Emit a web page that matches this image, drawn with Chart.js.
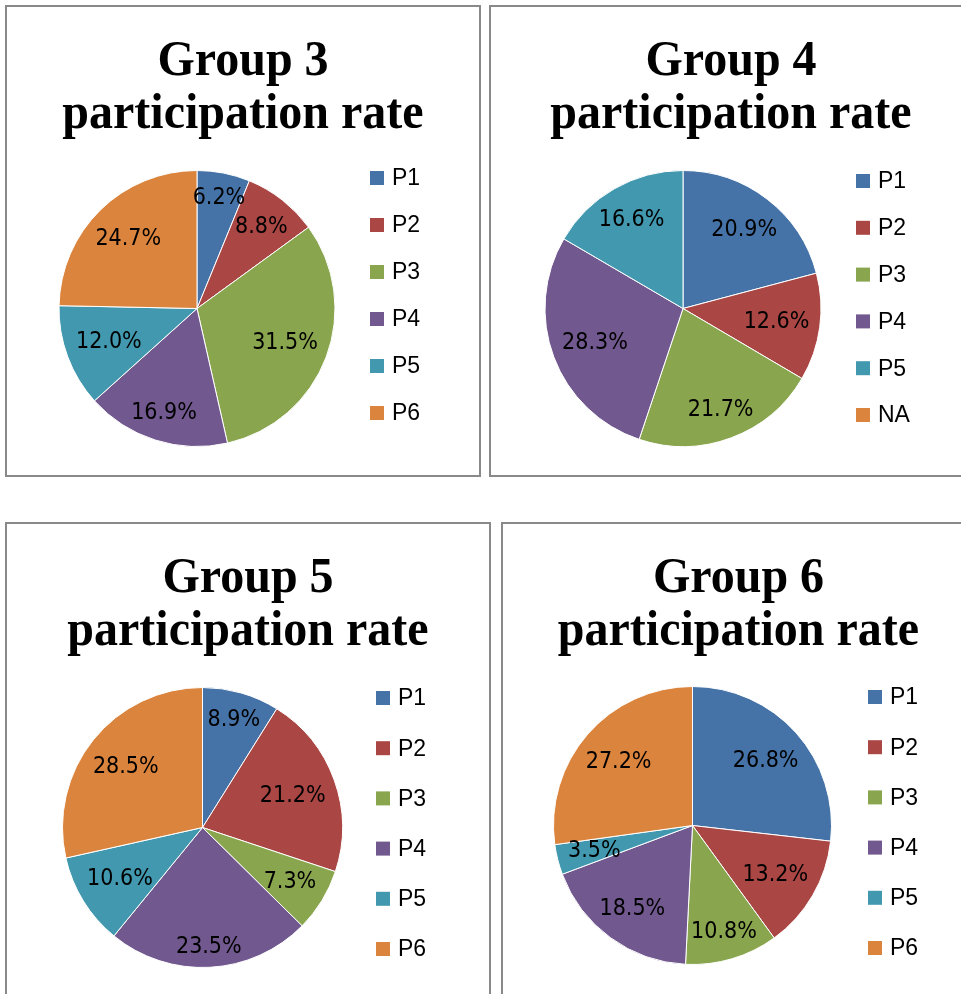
<!DOCTYPE html>
<html>
<head>
<meta charset="utf-8">
<script src="https://cdn.jsdelivr.net/npm/chart.js@4/dist/chart.umd.min.js"></script>
<style>
    html, body { margin: 0; padding: 0; background: #fff; overflow: hidden; }
    body { width: 961px; height: 994px; position: relative; }
    .panel { position: absolute; border: 2px solid #898989; box-sizing: border-box; background: #fff; }
    .panel canvas { display: block; }
</style>
</head>
<body>
<div class="panel" id="panel-3"><canvas id="chart-3"></canvas></div>
<div class="panel" id="panel-4"><canvas id="chart-4"></canvas></div>
<div class="panel" id="panel-5"><canvas id="chart-5"></canvas></div>
<div class="panel" id="panel-6"><canvas id="chart-6"></canvas></div>
<script>
// Categories
const partLabels = ['P1', 'P2', 'P3', 'P4', 'P5', 'P6'];
const partLabelsNA = ['P1', 'P2', 'P3', 'P4', 'P5', 'NA'];

// Participation shares (%)
const group3Values = [6.2, 8.8, 31.5, 16.9, 12.0, 24.7];
const group4Values = [20.9, 12.6, 21.7, 28.3, 16.6, 0];
const group5Values = [8.9, 21.2, 7.3, 23.5, 10.6, 28.5];
const group6Values = [26.8, 13.2, 10.8, 18.5, 3.5, 27.2];

// Titles
const group3Title = ['Group 3', 'participation rate'];
const group4Title = ['Group 4', 'participation rate'];
const group5Title = ['Group 5', 'participation rate'];
const group6Title = ['Group 6', 'participation rate'];

// Office-style series colours
const sliceColors = ['#4572A7', '#AA4643', '#89A54E', '#71588F', '#4198AF', '#DB843D'];

const panels = [
    { id: 3, title: group3Title, labels: partLabels, values: group3Values,
      box: { left: 5, top: 5, width: 476, height: 472 },
      pad: { left: 51, right: 143, top: 163, bottom: 28 },
      legend: { gap: 34, firstY: 171, step: 47 } },
    { id: 4, title: group4Title, labels: partLabelsNA, values: group4Values,
      box: { left: 489, top: 5, width: 484, height: 472 },
      pad: { left: 53, right: 149, top: 163, bottom: 28 },
      legend: { gap: 34, firstY: 174, step: 46.8 } },
    { id: 5, title: group5Title, labels: partLabels, values: group5Values,
      box: { left: 5, top: 522, width: 486, height: 480 },
      pad: { left: 55, right: 146, top: 163, bottom: 32 },
      legend: { gap: 33, firstY: 174, step: 50.2 } },
    { id: 6, title: group6Title, labels: partLabels, values: group6Values,
      box: { left: 501, top: 522, width: 475, height: 480 },
      pad: { left: 50, right: 142, top: 161, bottom: 34 },
      legend: { gap: 36, firstY: 173, step: 50.2 } }
];

// draws text squeezed horizontally around (x, y)
function drawSqueezed(ctx, text, x, y, sx) {
    ctx.save();
    ctx.translate(x, y);
    ctx.scale(sx, 1);
    ctx.fillText(text, 0, 0);
    ctx.restore();
}

// Title, slice percentages and legend, laid out like the spreadsheet chart
const panelText = {
    id: 'panelText',
    afterDraw(chart, args, opts) {
        const ctx = chart.ctx;
        const meta = chart.getDatasetMeta(0);
        const values = chart.data.datasets[0].data;
        const colors = chart.data.datasets[0].backgroundColor;

        // title
        ctx.save();
        ctx.fillStyle = '#000';
        ctx.textAlign = 'center';
        ctx.textBaseline = 'alphabetic';
        ctx.font = opts.titleFont;
        opts.title.forEach((line, i) => {
            drawSqueezed(ctx, line, chart.width / 2, opts.titleY[i], opts.titleSqueeze);
        });
        ctx.restore();

        // slice labels
        ctx.save();
        ctx.fillStyle = '#000';
        ctx.textAlign = 'center';
        ctx.textBaseline = 'middle';
        ctx.font = opts.labelFont;
        meta.data.forEach((arc, i) => {
            if (!values[i]) return;
            const text = values[i].toFixed(1) + '%';
            const w = ctx.measureText(text).width * opts.labelSqueeze;
            const h = opts.labelHeight;
            const mid = (arc.startAngle + arc.endAngle) / 2;
            const ux = Math.cos(mid), uy = Math.sin(mid);
            const d = opts.labelReach * arc.outerRadius - (Math.abs(ux) * w / 2 + Math.abs(uy) * h / 2);
            drawSqueezed(ctx, text, arc.x + ux * d, arc.y + uy * d + 1, opts.labelSqueeze);
        });
        ctx.restore();

        // legend
        const lg = opts.legend;
        const boxX = chart.chartArea.right + lg.gap;
        ctx.save();
        ctx.font = opts.legendFont;
        ctx.textAlign = 'left';
        ctx.textBaseline = 'middle';
        chart.data.labels.forEach((label, i) => {
            const cy = lg.firstY + i * lg.step;
            ctx.fillStyle = colors[i];
            ctx.fillRect(boxX, cy - 7, 14, 14);
            ctx.fillStyle = '#000';
            ctx.fillText(label, boxX + 22, cy + 1);
        });
        ctx.restore();
    }
};

panels.forEach(p => {
    const panel = document.getElementById('panel-' + p.id);
    panel.style.left = p.box.left + 'px';
    panel.style.top = p.box.top + 'px';
    panel.style.width = p.box.width + 'px';
    panel.style.height = p.box.height + 'px';

    const canvas = document.getElementById('chart-' + p.id);
    canvas.width = p.box.width - 4;
    canvas.height = p.box.height - 4;

    new Chart(canvas, {
        type: 'pie',
        data: {
            labels: p.labels,
            datasets: [{
                data: p.values,
                backgroundColor: sliceColors,
                borderColor: '#ffffff',
                borderWidth: 1
            }]
        },
        options: {
            responsive: false,
            animation: false,
            devicePixelRatio: 1,
            layout: { padding: p.pad },
            plugins: {
                legend: { display: false },
                title: { display: false },
                tooltip: { enabled: false },
                panelText: {
                    title: p.title,
                    titleFont: 'bold 50px "Liberation Serif", "Times New Roman", serif',
                    titleY: [68, 121],
                    titleSqueeze: 0.96,
                    labelFont: '23px "Liberation Sans Narrow", "DejaVu Sans Condensed", sans-serif',
                    labelSqueeze: 1,
                    labelHeight: 20,
                    labelReach: 0.93,
                    legendFont: '23px "Liberation Sans", Arial, sans-serif',
                    legend: p.legend
                }
            }
        },
        plugins: [panelText]
    });
});
</script>
</body>
</html>
